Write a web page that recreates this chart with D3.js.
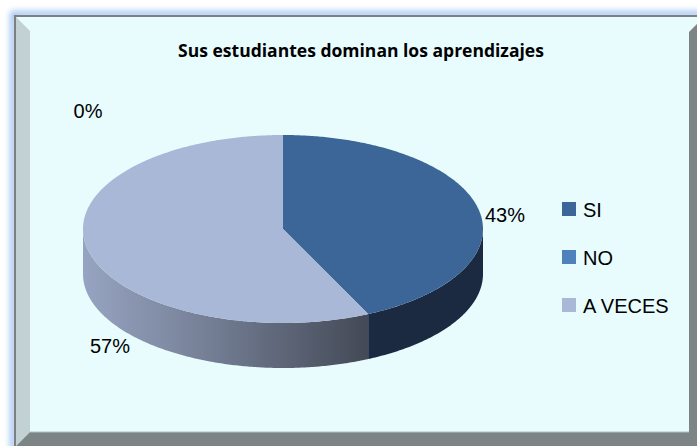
<!DOCTYPE html>
<html>
<head>
<meta charset="utf-8">
<script src="https://cdn.jsdelivr.net/npm/d3@7"></script>
<style>
  html, body { margin:0; padding:0; background:#fff; }
  svg { display:block; }
</style>
</head>
<body>
<svg id="svg" width="697" height="446"></svg>
<script>
// chart data
var categories = ["SI", "NO", "A VECES"];
var values = [43, 0, 57];
var pctLabels = ["43%", "0%", "57%"];
var title = "Sus estudiantes dominan los aprendizajes";

var topColors = ["#3D6698", "#4F81BD", "#A9B8D6"];
var sideColors = ["#1B2A40", "#2C4A6E", null]; // A VECES side uses gradient
var legendColors = ["#3D6698", "#4F81BD", "#A9B8D6"];

var W = 697, H = 446;
var svg = d3.select("#svg");
var defs = svg.append("defs");

// frame glow
var glow = defs.append("filter").attr("id","glow").attr("x","-5%").attr("y","-5%").attr("width","110%").attr("height","110%");
glow.append("feGaussianBlur").attr("stdDeviation", 3);

svg.append("rect")
  .attr("x", 13).attr("y", 14).attr("width", 700).attr("height", 450)
  .attr("fill","none").attr("stroke","#8DB8F2").attr("stroke-width",5)
  .attr("filter","url(#glow)");

// outer border
svg.append("rect")
  .attr("x", 14).attr("y", 15).attr("width", 700).attr("height", 450)
  .attr("fill","#7F7F7F");

// inner background
var fx0 = 16, fy0 = 17, fx1 = 697, fy1 = 446;
svg.append("rect")
  .attr("x", fx0).attr("y", fy0).attr("width", fx1 - fx0).attr("height", fy1 - fy0)
  .attr("fill","#E8FCFE");

// bevels
var bev = 14;
// left bevel (light)
svg.append("path")
  .attr("d", "M"+fx0+","+fy0+" L"+(fx0+bev)+","+(fy0+bev)+" L"+(fx0+bev)+","+(432)+" L"+fx0+","+fy1+" Z")
  .attr("fill","#C1D1D4");
// bottom bevel (dark)
svg.append("path")
  .attr("d", "M"+fx0+","+fy1+" L"+(fx0+bev)+",432 L689,432 L697,424 L697,446 Z")
  .attr("fill","#7C8486");
// right bevel (dark)
svg.append("path")
  .attr("d", "M689,"+(fy0+15)+" L697,"+(fy0+7)+" L697,446 L689,446 Z")
  .attr("fill","#7C8486");
svg.append("line").attr("x1",fx0+bev).attr("y1",432).attr("x2",689).attr("y2",432)
  .attr("stroke","#A9C3C7").attr("stroke-width",1);

// title
var titleText = svg.append("text")
  .attr("x", 361).attr("y", 57)
  .attr("text-anchor","middle")
  .attr("font-family","'Open Sans', sans-serif")
  .attr("font-weight","bold")
  .attr("font-size", 14)
  .attr("fill","#000")
  .text(title);
var tw = titleText.node().getComputedTextLength();
titleText.attr("font-size", 14 * 366 / tw);

// 3D pie
var cx = 283, cy = 229, rx = 200, ry = 94, depth = 45;
var pie = d3.pie().sort(null).value(function(d){ return d; });
var arcs = pie(values);

var ex = d3.scaleLinear().domain([-1, 1]).range([cx - rx, cx + rx]);
var ey = d3.scaleLinear().domain([-1, 1]).range([cy + ry, cy - ry]);

function pt(a, dy) {
  return [ex(Math.sin(a)), ey(Math.cos(a)) + (dy || 0)];
}
function arcPoints(a0, a1, dy) {
  var n = Math.max(2, Math.ceil((a1 - a0) / 0.01));
  var pts = [];
  for (var i = 0; i <= n; i++) pts.push(pt(a0 + (a1 - a0) * i / n, dy));
  return pts;
}
var line = d3.line();

// side gradient for A VECES
var grad = defs.append("linearGradient").attr("id","sideGrad")
  .attr("gradientUnits","userSpaceOnUse")
  .attr("x1", cx - rx).attr("y1", 0).attr("x2", pt(arcs[2].startAngle)[0]).attr("y2", 0);
grad.append("stop").attr("offset","0%").attr("stop-color","#97A4C1");
grad.append("stop").attr("offset","35%").attr("stop-color","#7C879F");
grad.append("stop").attr("offset","100%").attr("stop-color","#434956");

var sideG = svg.append("g");
arcs.forEach(function(d, i) {
  var a0 = Math.max(d.startAngle, Math.PI / 2);
  var a1 = Math.min(d.endAngle, 3 * Math.PI / 2);
  if (a1 <= a0) return;
  var topPts = arcPoints(a0, a1, 0);
  var botPts = arcPoints(a0, a1, depth).reverse();
  sideG.append("path")
    .attr("d", line(topPts.concat(botPts)) + "Z")
    .attr("fill", sideColors[i] || "url(#sideGrad)");
});

var topG = svg.append("g");
arcs.forEach(function(d, i) {
  if (d.endAngle - d.startAngle <= 0) return;
  var pts = [[cx, cy]].concat(arcPoints(d.startAngle, d.endAngle, 0));
  topG.append("path")
    .attr("d", line(pts) + "Z")
    .attr("fill", topColors[i]);
});

// data labels
var labelPos = [[505, 222], [88, 118], [110, 353]];
svg.selectAll("text.lbl")
  .data(pctLabels)
  .enter().append("text")
  .attr("class","lbl")
  .attr("x", function(d, i){ return labelPos[i][0]; })
  .attr("y", function(d, i){ return labelPos[i][1]; })
  .attr("text-anchor","middle")
  .attr("font-family","'Liberation Sans', Arial, sans-serif")
  .attr("font-size", 20)
  .attr("fill","#000")
  .text(function(d){ return d; });

// legend
var ly = d3.scalePoint().domain(categories).range([209, 305]);
var leg = svg.selectAll("g.leg")
  .data(categories)
  .enter().append("g")
  .attr("class","leg")
  .attr("transform", function(d){ return "translate(562," + ly(d) + ")"; });
leg.append("rect")
  .attr("x", 0).attr("y", -7).attr("width", 14).attr("height", 14)
  .attr("fill", function(d, i){ return legendColors[i]; });
leg.append("text")
  .attr("x", 21).attr("y", 8)
  .attr("font-family","'Liberation Sans', Arial, sans-serif")
  .attr("font-size", 20)
  .attr("fill","#000")
  .text(function(d){ return d; });
</script>
</body>
</html>
